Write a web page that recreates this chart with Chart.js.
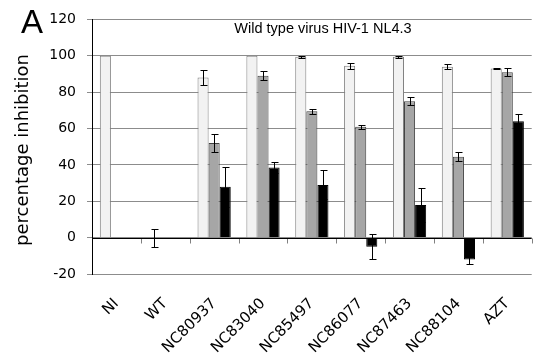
<!DOCTYPE html>
<html>
<head>
<meta charset="utf-8">
<script src="https://cdn.jsdelivr.net/npm/chart.js@4.4.1/dist/chart.umd.min.js"></script>
<style>
  html, body { margin: 0; padding: 0; background: #fff; }
</style>
</head>
<body>
<canvas id="chart" width="533" height="356"></canvas>
<script>
// Inhibition of wild type HIV-1 NL4.3, three concentrations per compound
const compounds = ['NI', 'WT', 'NC80937', 'NC83040', 'NC85497', 'NC86077', 'NC87463', 'NC88104', 'AZT']

const highConc = [100, 0, 88, 100, 99.5, 94.5, 99.5, 94, 93]
const highConcErr = [0, 5, 4, 0, 0.5, 1.5, 0.5, 1.5, 0.5]

const midConc = [0, 0, 52, 89, 69.5, 61, 75, 44.5, 91]
const midConcErr = [0, 0, 5, 2.5, 1.5, 1, 2.3, 2.4, 2.2]

const lowConc = [0, 0, 28, 38.5, 29, -5, 18, -12, 64]
const lowConcErr = [0, 0, 11, 3, 8, 7, 9.5, 2.5, 4]

const yTicks = [-20, 0, 20, 40, 60, 80, 100, 120]

const plotTitle = 'Wild type virus HIV-1 NL4.3'
const yTitle = 'percentage inhibition'
const panelLetter = 'A'

const sans = '"DejaVu Sans", Verdana, sans-serif'

// error bars drawn on top of each bar, from the dataset's errors array
const errorBars = {
  id: 'errorBars',
  afterDatasetsDraw(chart) {
    const ctx = chart.ctx
    const y = chart.scales.y
    ctx.save()
    ctx.strokeStyle = '#000'
    ctx.lineWidth = 1
    chart.data.datasets.forEach((ds, i) => {
      chart.getDatasetMeta(i).data.forEach((bar, j) => {
        const err = ds.errors[j]
        if (!err) return
        const v = ds.data[j]
        const top = Math.round(y.getPixelForValue(v + err)) + 0.5
        const bottom = Math.round(y.getPixelForValue(v - err)) + 0.5
        const x = Math.round(bar.x) + 0.5
        ctx.beginPath()
        ctx.moveTo(x, top)
        ctx.lineTo(x, bottom)
        ctx.moveTo(x - 3, top)
        ctx.lineTo(x + 4, top)
        ctx.moveTo(x - 3, bottom)
        ctx.lineTo(x + 4, bottom)
        ctx.stroke()
      })
    })
    ctx.restore()
  }
}

// category axis crossing at zero, with tick marks between groups
const zeroAxis = {
  id: 'zeroAxis',
  afterDatasetsDraw(chart) {
    const ctx = chart.ctx
    const { left, right } = chart.chartArea
    const y0 = Math.round(chart.scales.y.getPixelForValue(0)) + 0.5
    const step = (right - left) / compounds.length
    ctx.save()
    ctx.strokeStyle = '#808080'
    ctx.lineWidth = 1
    ctx.beginPath()
    for (let i = 1; i <= compounds.length; i++) {
      const tx = Math.round(left + i * step) + 0.5
      ctx.moveTo(tx, y0)
      ctx.lineTo(tx, y0 + 5)
    }
    ctx.stroke()
    ctx.strokeStyle = '#000'
    ctx.beginPath()
    ctx.moveTo(left, y0)
    ctx.lineTo(right, y0)
    ctx.stroke()
    ctx.restore()
  }
}

// title inside the plot area, y axis title and the panel letter
const labels = {
  id: 'labels',
  afterDraw(chart) {
    const ctx = chart.ctx
    ctx.save()
    ctx.fillStyle = '#000'
    ctx.textBaseline = 'middle'
    ctx.textAlign = 'center'
    ctx.font = '14.5px "Liberation Sans", Arial, sans-serif'
    ctx.fillText(plotTitle, 323, 29)

    ctx.save()
    ctx.translate(23, 150)
    ctx.rotate(-Math.PI / 2)
    ctx.font = '18px ' + sans
    ctx.fillText(yTitle, 0, 0)
    ctx.restore()

    ctx.textAlign = 'left'
    ctx.textBaseline = 'alphabetic'
    ctx.font = '33px "Liberation Sans", Arial, sans-serif'
    ctx.fillText(panelLetter, 21, 33)
    ctx.restore()
  }
}

new Chart(document.getElementById('chart'), {
  type: 'bar',
  data: {
    labels: compounds,
    datasets: [
      {
        data: highConc,
        errors: highConcErr,
        backgroundColor: '#f2f2f2',
        borderColor: '#7f7f7f',
        borderWidth: 1
      },
      {
        data: midConc,
        errors: midConcErr,
        backgroundColor: '#a6a6a6',
        borderColor: '#404040',
        borderWidth: 1
      },
      {
        data: lowConc,
        errors: lowConcErr,
        backgroundColor: '#000',
        borderColor: '#000',
        borderWidth: 1
      }
    ]
  },
  options: {
    responsive: false,
    animation: false,
    devicePixelRatio: 1,
    categoryPercentage: 0.68,
    barPercentage: 1,
    layout: { padding: { top: 15, right: 0, left: 0, bottom: 0 } },
    plugins: {
      legend: { display: false },
      tooltip: { enabled: false }
    },
    scales: {
      x: {
        grid: { display: false },
        border: { display: false },
        ticks: {
          minRotation: 45,
          maxRotation: 45,
          padding: 13,
          color: '#000',
          font: { family: sans, size: 15 }
        },
        afterFit(scale) { scale.height = 82 }
      },
      y: {
        min: -20,
        max: 120,
        afterBuildTicks(scale) { scale.ticks = yTicks.map(v => ({ value: v })) },
        grid: { color: '#8c8c8c', tickLength: 5 },
        border: { color: '#000' },
        ticks: {
          padding: 11,
          color: '#000',
          font: { family: sans, size: 14 }
        },
        afterFit(scale) { scale.width = 92 }
      }
    }
  },
  plugins: [errorBars, zeroAxis, labels]
})
</script>
</body>
</html>
